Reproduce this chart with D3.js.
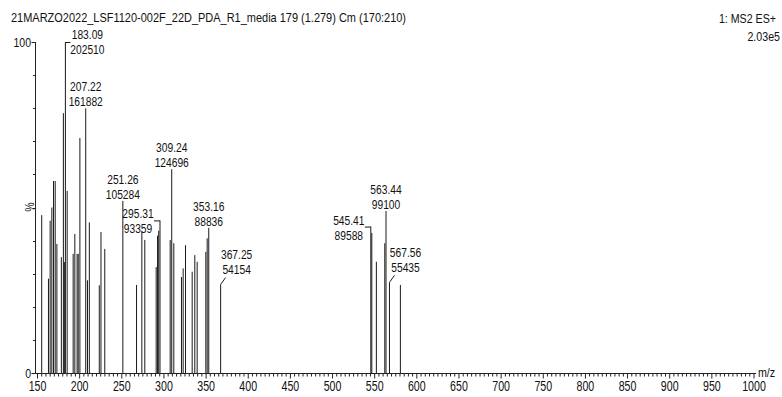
<!DOCTYPE html>
<html>
<head>
<meta charset="utf-8">
<script src="https://cdn.jsdelivr.net/npm/d3@7"></script>
<style>
  html, body { margin: 0; padding: 0; background: #fff; }
  svg { display: block; font-family: "Liberation Sans", Arial, Helvetica, sans-serif; }
</style>
</head>
<body>
<svg id="chart" width="782" height="397"></svg>
<script>
// ---- Spectrum data -------------------------------------------------------
const title = "21MARZO2022_LSF1120-002F_22D_PDA_R1_media 179 (1.279) Cm (170:210)";
const scanInfo = ["1: MS2 ES+", "2.03e5"];
const basePeakCounts = 202510;

// unlabelled centroid peaks: m/z and relative intensity (%)
const peakMz  = [155.0, 163.0, 165.0, 167.0, 169.0, 171.0, 173.0, 178.3, 180.7, 181.9,
                 185.2, 192.3, 194.3, 197.0, 198.3, 200.3, 209.3, 211.5, 223.3, 225.3,
                 229.8, 267.5, 273.8, 277.3, 290.8, 292.4, 293.8, 307.4, 311.7, 320.8,
                 322.8, 325.6, 333.5, 336.6, 339.4, 349.7, 351.3, 546.6, 552.0, 562.0,
                 580.5];
const peakPct = [47.7, 28.5, 46.0, 50.0, 58.0, 58.0, 39.0, 35.0, 78.5, 33.5,
                 55.0, 36.0, 42.0, 36.0, 36.0, 71.0, 28.0, 45.5, 26.5, 42.6,
                 37.5, 26.6, 42.7, 40.2, 32.0, 41.5, 43.0, 40.2, 39.2, 29.0,
                 31.6, 38.6, 30.6, 35.6, 33.6, 36.6, 40.7, 42.3, 33.6, 39.2,
                 26.6];

// annotated peaks: m/z, absolute counts and where the annotation sits
const labelMz     = [183.09, 207.22, 251.26, 295.31, 309.24, 353.16, 367.25, 545.41, 563.44, 567.56];
const labelCounts = [202510, 161882, 105284, 93359, 124696, 88836, 54154, 89588, 99100, 55435];
const labelSide   = ["right", "above", "above", "left", "above", "above", "diag", "left", "above", "diag"];

const xTickValues = d3.range(150, 1001, 50);
const yTickValues = [0, 100];

// ---- Layout --------------------------------------------------------------
const svg = d3.select("#chart");
const SX = 0.82;          // horizontal squeeze for the narrow instrument font
const x = d3.scaleLinear().domain([150, 1000]).range([37.5, 754]);
const y = d3.scaleLinear().domain([0, 100]).range([373, 42]);
const axisFrom = 147, axisTo = 1002.5;

function ctext(parent, px, py, str, size, anchor, sx) {
  return parent.append("text")
    .attr("transform", `translate(${px},${py}) scale(${sx || SX},1)`)
    .attr("text-anchor", anchor || "start")
    .attr("font-size", size)
    .attr("fill", "#111")
    .text(str);
}

// header
svg.append("text")
  .attr("x", 11).attr("y", 22)
  .attr("font-size", 13)
  .attr("fill", "#111")
  .attr("textLength", 395).attr("lengthAdjust", "spacingAndGlyphs")
  .text(title);
ctext(svg, 776, 23, scanInfo[0], 13, "end");
ctext(svg, 780, 41, scanInfo[1], 13, "end");

// ---- Axes ----------------------------------------------------------------
const axisG = svg.append("g").attr("stroke", "#222").attr("fill", "none");

// x axis line and ticks
axisG.append("line")
  .attr("x1", x(axisFrom)).attr("x2", x(axisTo))
  .attr("y1", y(0) + 0.5).attr("y2", y(0) + 0.5);

const minorX = d3.range(150, 1001, 5).filter(v => v % 50 !== 0);
axisG.selectAll(".xminor").data(minorX).join("line")
  .attr("x1", d => x(d)).attr("x2", d => x(d))
  .attr("y1", y(0)).attr("y2", y(0) + 3.5);
axisG.selectAll(".xmajor").data(xTickValues).join("line")
  .attr("x1", d => x(d)).attr("x2", d => x(d))
  .attr("y1", y(0)).attr("y2", y(0) + 5.5);

xTickValues.forEach(v => ctext(svg, x(v), 391, String(v), 14, "middle", 0.76));
ctext(svg, 758, 377, "m/z", 13, "start");

// y axis line and ticks
axisG.append("line")
  .attr("x1", 35.5).attr("x2", 35.5)
  .attr("y1", y(100)).attr("y2", y(0) + 0.5);
axisG.selectAll(".yminor").data(d3.range(10, 100, 10)).join("line")
  .attr("x1", 33).attr("x2", 35.5)
  .attr("y1", d => Math.round(y(d)) + 0.5).attr("y2", d => Math.round(y(d)) + 0.5);
axisG.selectAll(".ymajor").data(yTickValues).join("line")
  .attr("x1", 31.5).attr("x2", 35.5)
  .attr("y1", d => Math.round(y(d)) + 0.5).attr("y2", d => Math.round(y(d)) + 0.5);
yTickValues.forEach(v => ctext(svg, 31, y(v) + 5, String(v), 13.5, "end", 0.78));

svg.append("text")
  .attr("transform", `translate(34,207) rotate(-90) scale(${SX},1)`)
  .attr("text-anchor", "middle")
  .attr("font-size", 13)
  .attr("fill", "#111")
  .text("%");

// ---- Peaks ---------------------------------------------------------------
const peaks = peakMz.map((m, i) => ({ mz: m, pct: peakPct[i] }))
  .concat(labelMz.map((m, i) => ({ mz: m, pct: labelCounts[i] / basePeakCounts * 100 })));

svg.append("g").attr("stroke", "#1a1a1a").attr("stroke-width", 1)
  .selectAll("line").data(peaks).join("line")
  .attr("x1", d => x(d.mz)).attr("x2", d => x(d.mz))
  .attr("y1", y(0)).attr("y2", d => y(d.pct));

// ---- Peak annotations ------------------------------------------------------
const ann = svg.append("g");
labelMz.forEach((m, i) => {
  const px = x(m);
  const top = y(labelCounts[i] / basePeakCounts * 100);
  const l1 = m.toFixed(2), l2 = String(labelCounts[i]);
  const side = labelSide[i];
  if (side === "above") {
    ctext(ann, px, top - 17, l1, 12.5, "middle");
    ctext(ann, px, top - 2, l2, 12.5, "middle");
  } else if (side === "right") {
    ann.append("line").attr("x1", px).attr("x2", px + 5)
      .attr("y1", top + 0.5).attr("y2", top + 0.5).attr("stroke", "#1a1a1a");
    ctext(ann, px + 22, top - 3, l1, 12.5, "middle");
    ctext(ann, px + 22, top + 12, l2, 12.5, "middle");
  } else if (side === "left") {
    ann.append("line").attr("x1", px - 6).attr("x2", px)
      .attr("y1", top + 0.5).attr("y2", top + 0.5).attr("stroke", "#1a1a1a");
    ctext(ann, px - 22, top - 2, l1, 12.5, "middle");
    ctext(ann, px - 22, top + 13, l2, 12.5, "middle");
  } else {
    ann.append("line").attr("x1", px).attr("x2", px + 5)
      .attr("y1", top).attr("y2", top - 7).attr("stroke", "#1a1a1a");
    ctext(ann, px + 16, top - 25, l1, 12.5, "middle");
    ctext(ann, px + 16, top - 10, l2, 12.5, "middle");
  }
});
</script>
</body>
</html>
